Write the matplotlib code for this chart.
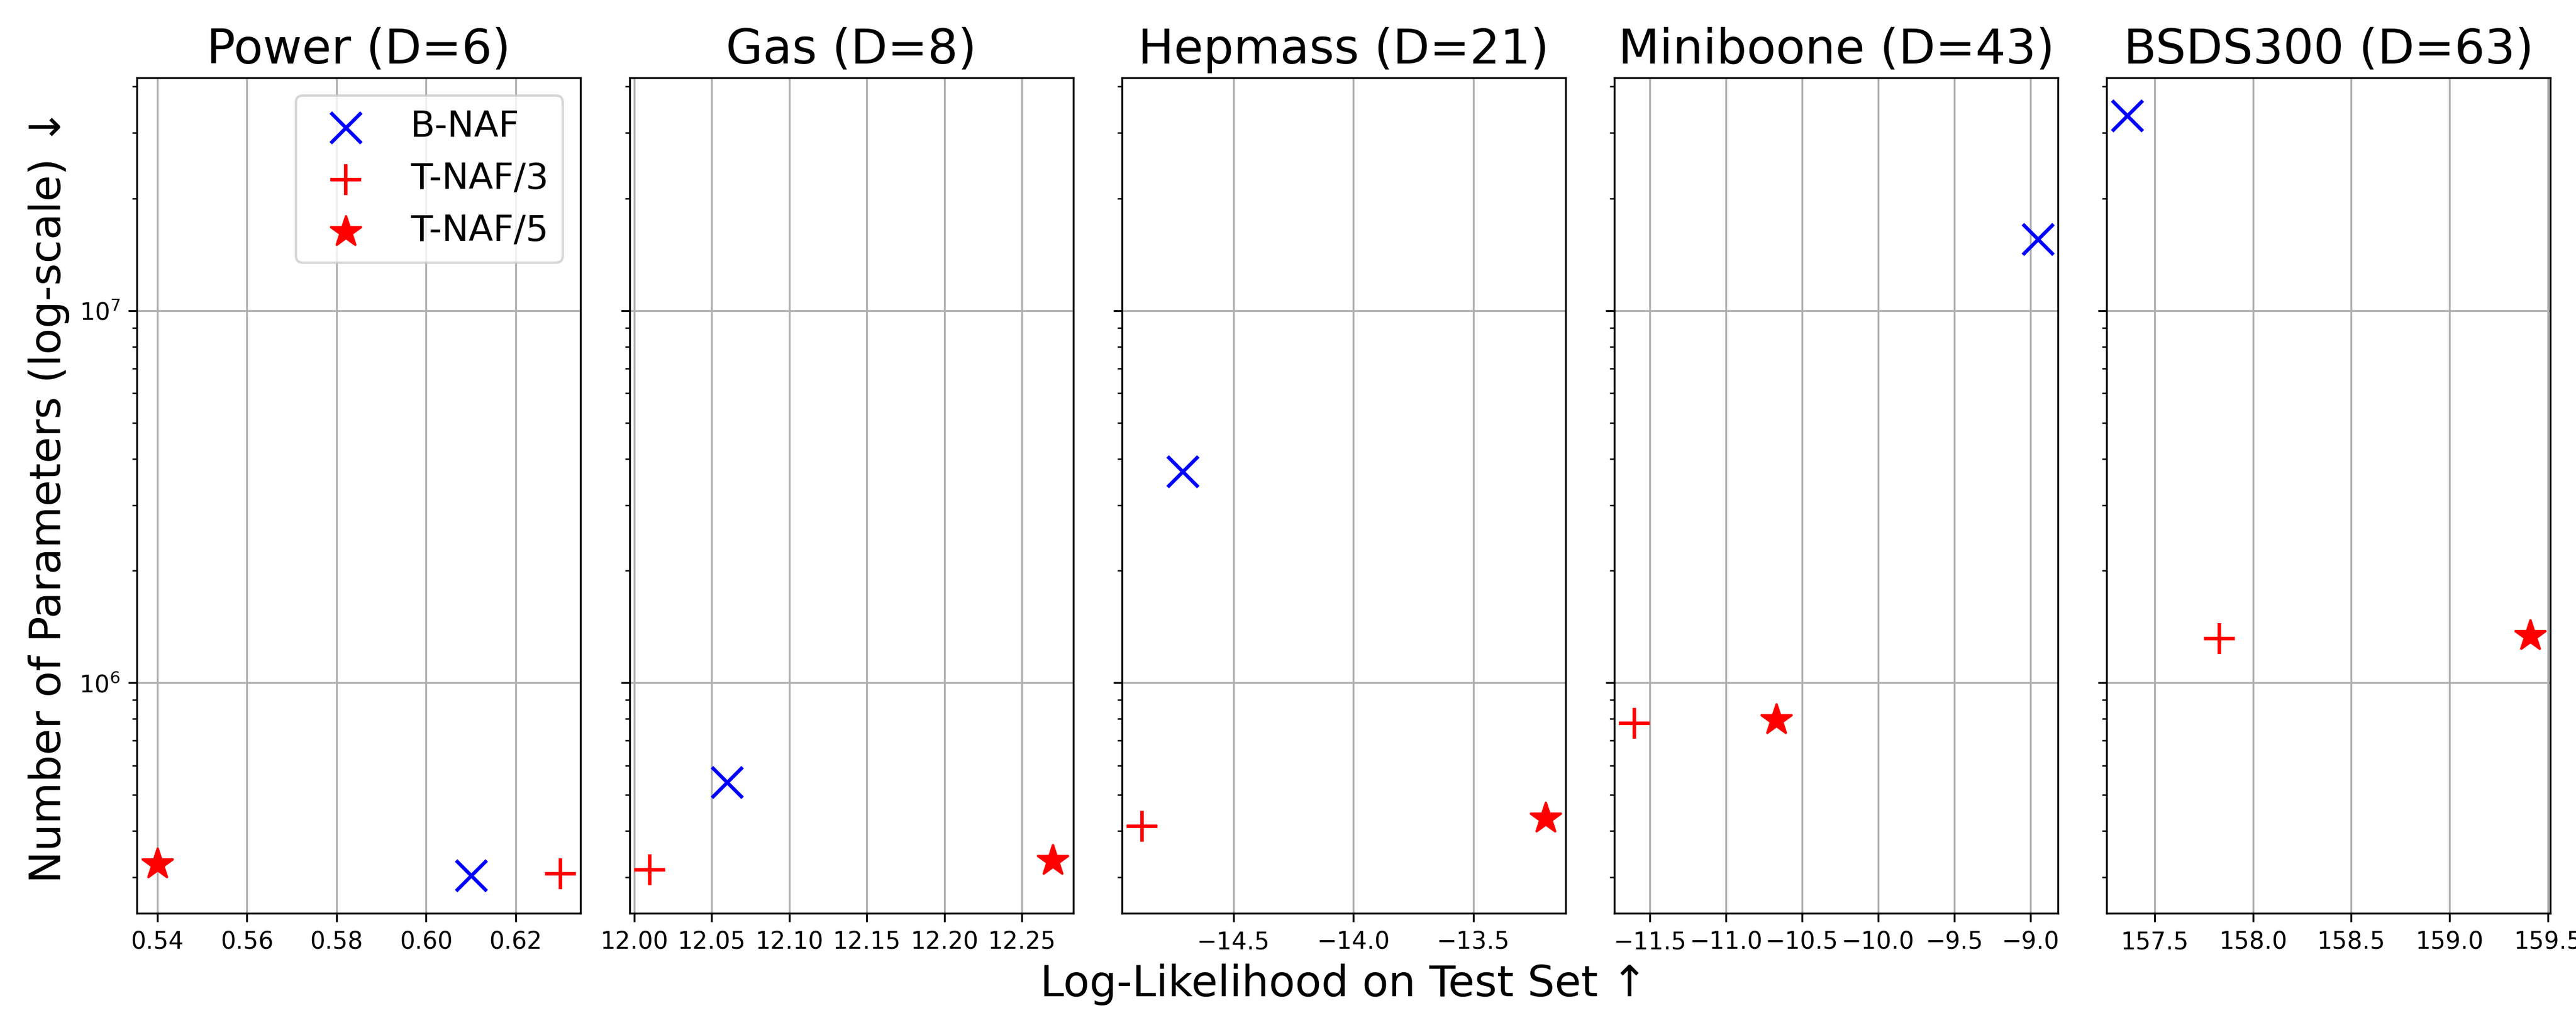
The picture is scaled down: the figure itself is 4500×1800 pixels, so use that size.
import matplotlib
matplotlib.use("Agg")
import matplotlib.pyplot as plt

datasets = ["Power (D=6)", "Gas (D=8)", "Hepmass (D=21)", "Miniboone (D=43)", "BSDS300 (D=63)"]

bnaf_ll = [0.61, 12.06, -14.71, -8.95, 157.36]
bnaf_params = [3.04e5, 5.40e5, 3.70e6, 1.555e7, 3.34e7]

tnaf3_ll = [0.63, 12.01, -14.88, -11.60, 157.83]
tnaf3_params = [3.07e5, 3.15e5, 4.11e5, 7.79e5, 1.316e6]

tnaf5_ll = [0.54, 12.27, -13.20, -10.67, 159.41]
tnaf5_params = [3.26e5, 3.33e5, 4.33e5, 7.96e5, 1.34e6]

fig, axes = plt.subplots(1, 5, figsize=(15, 6), dpi=300, sharey=True)
fig.subplots_adjust(left=0.0532, right=0.9901, top=0.9246, bottom=0.1133, wspace=0.11)

for i, ax in enumerate(axes):
    ax.scatter([bnaf_ll[i]], [bnaf_params[i]], marker="x", color="blue", s=165, label="B-NAF", zorder=3)
    ax.scatter([tnaf3_ll[i]], [tnaf3_params[i]], marker="+", color="red", s=165, label="T-NAF/3", zorder=3)
    ax.scatter([tnaf5_ll[i]], [tnaf5_params[i]], marker="*", color="red", s=175, label="T-NAF/5", zorder=3)
    ax.set_yscale("log")
    ax.set_title(datasets[i], fontsize=20)
    ax.grid(True)
    ax.tick_params(labelsize=10)

axes[0].set_ylabel("Number of Parameters (log-scale) \u2193", fontsize=18)
axes[2].set_xlabel("Log-Likelihood on Test Set \u2191", fontsize=18)
axes[0].legend(loc="upper right", fontsize=15)

fig.savefig("out.png", dpi=300)
